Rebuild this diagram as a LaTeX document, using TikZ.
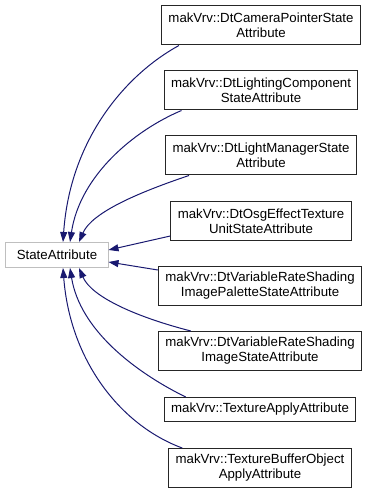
\documentclass[tikz,border=0pt]{standalone}
\usepackage{fontspec}
\setmainfont{Liberation Sans}
\usetikzlibrary{arrows.meta}
\definecolor{edgeblue}{HTML}{191970}
\definecolor{graybox}{HTML}{BFBFBF}
\tikzset{
  cls/.style={draw=black!85, line width=1bp, fill=white, align=center, inner xsep=7bp, inner ysep=0pt,
    font=\fontsize{13.3}{15}\selectfont},
  twoline/.style={cls, minimum height=39bp},
  oneline/.style={cls, minimum height=24bp},
  basecls/.style={draw=graybox, line width=1bp, fill=white, inner xsep=6bp, minimum height=25bp, minimum width=102bp,
    font=\fontsize{13.3}{15}\selectfont},
  inh/.style={draw=edgeblue, line width=1bp, -{Triangle[length=10bp,width=7bp]}, edgeblue}
}
\begin{document}
\begin{tikzpicture}[x=1bp,y=-1bp]
\useasboundingbox (0,0) rectangle (373,495);
\node[basecls] (sa) at (57,255) {StateAttribute};
\node[twoline] (b1) at (261,25.5) {makVrv::DtCameraPointerState\\Attribute};
\node[twoline] (b2) at (261,90.5) {makVrv::DtLightingComponent\\StateAttribute};
\node[twoline] (b3) at (261,155.5) {makVrv::DtLightManagerState\\Attribute};
\node[twoline] (b4) at (261,221) {makVrv::DtOsgEffectTexture\\UnitStateAttribute};
\node[twoline] (b5) at (260,286) {makVrv::DtVariableRateShading\\ImagePaletteStateAttribute};
\node[twoline] (b6) at (260,351) {makVrv::DtVariableRateShading\\ImageStateAttribute};
\node[oneline] (b7) at (260,409.5) {makVrv::TextureApplyAttribute};
\node[twoline] (b8) at (260,468) {makVrv::TextureBufferObject\\ApplyAttribute};
\coordinate (t1) at ([xshift=6bp]sa.north);
\coordinate (t2) at ([xshift=13bp]sa.north);
\coordinate (t3) at ([xshift=22bp]sa.north);
\coordinate (r1) at ([yshift=5bp]sa.east);
\coordinate (r2) at ([yshift=-7bp]sa.east);
\coordinate (u3) at ([xshift=22bp]sa.south);
\coordinate (u2) at ([xshift=13bp]sa.south);
\coordinate (u1) at ([xshift=6bp]sa.south);
\draw[inh] ([xshift=18bp]b1.south west) .. controls (125,75) and (70,140) .. (t1);
\draw[inh] ([xshift=18bp]b2.south west) .. controls (135,130) and (80,175) .. (t2);
\draw[inh] ([xshift=24bp]b3.south west) .. controls (140,192) and (92,212) .. (t3);
\draw[inh] ([yshift=-15bp]b4.west) -- (r1);
\draw[inh] ([yshift=16bp]b5.west) -- (r2);
\draw[inh] ([xshift=33bp]b6.north west) .. controls (140,318) and (92,298) .. (u3);
\draw[inh] ([xshift=22bp]b7.north west) .. controls (135,372) and (80,330) .. (u2);
\draw[inh] ([xshift=14bp]b8.north west) .. controls (120,425) and (70,360) .. (u1);
\end{tikzpicture}
\end{document}
